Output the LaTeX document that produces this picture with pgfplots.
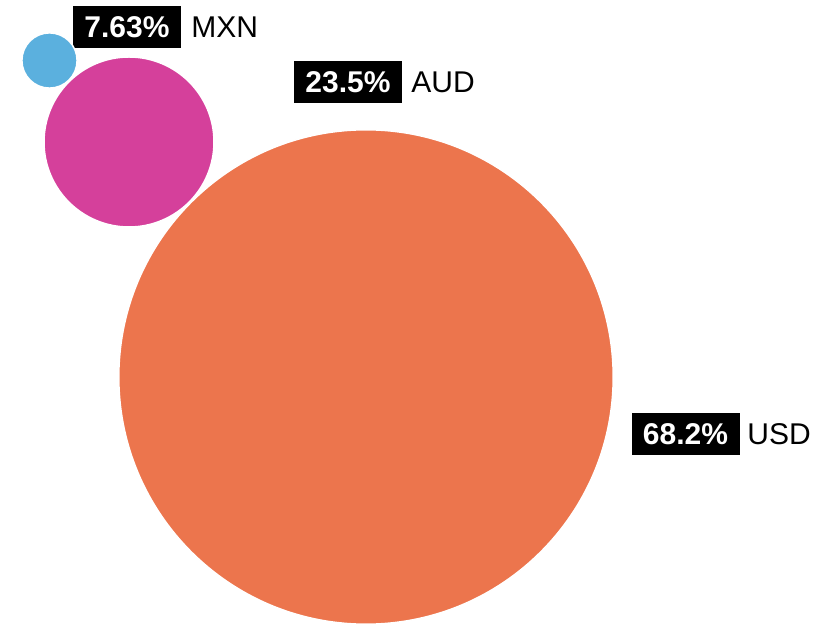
\documentclass[border=0pt]{standalone}
\usepackage{fontspec}
\setmainfont{Liberation Sans}
\usepackage{pgfplots}
\pgfplotsset{compat=1.18}

\definecolor{cusd}{RGB}{236,117,77}
\definecolor{caud}{RGB}{213,64,155}
\definecolor{cmxn}{RGB}{91,176,222}

% 1 px of the reference = 0.5pt, radius = 3.62 px per percent
\begin{document}
\begin{tikzpicture}[
  pctbox/.style={fill=black, text=white, font=\fontsize{15}{17}\selectfont\bfseries,
    minimum width=54pt, minimum height=21pt, inner sep=0pt, anchor=center},
  curlbl/.style={anchor=west, inner sep=0pt, text=black, font=\fontsize{15}{17}\selectfont},
]
\begin{axis}[
  width=408.5pt, height=312pt,
  scale only axis,
  xmin=0, xmax=817, ymin=0, ymax=624,
  y dir=reverse,
  hide axis,
  clip=false,
]
\coordinate (bl) at (axis cs:0,624);
\coordinate (tr) at (axis cs:817,0);

% USD 68.2 %
\addplot[only marks, mark=*, mark size=123.6pt,
  mark options={fill=cusd, draw=white, line width=0.75pt}]
  coordinates {(366,377)};
% AUD 23.5 %
\addplot[only marks, mark=*, mark size=42.5pt,
  mark options={fill=caud, draw=white, line width=0.75pt}]
  coordinates {(129,142)};
% MXN 7.63 %
\addplot[only marks, mark=*, mark size=13.8pt,
  mark options={fill=cmxn, draw=white, line width=0.75pt}]
  coordinates {(49.5,60.5)};

\node[pctbox] at (axis cs:127,27) {7.63\%};
\node[curlbl] at (axis cs:191,27) {MXN};
\node[pctbox] at (axis cs:348,82) {23.5\%};
\node[curlbl] at (axis cs:411,82) {AUD};
\node[pctbox] at (axis cs:685.5,434) {68.2\%};
\node[curlbl] at (axis cs:747,434) {USD};
\end{axis}
\pgfresetboundingbox
\path (bl) rectangle (tr);
\end{tikzpicture}
\end{document}
